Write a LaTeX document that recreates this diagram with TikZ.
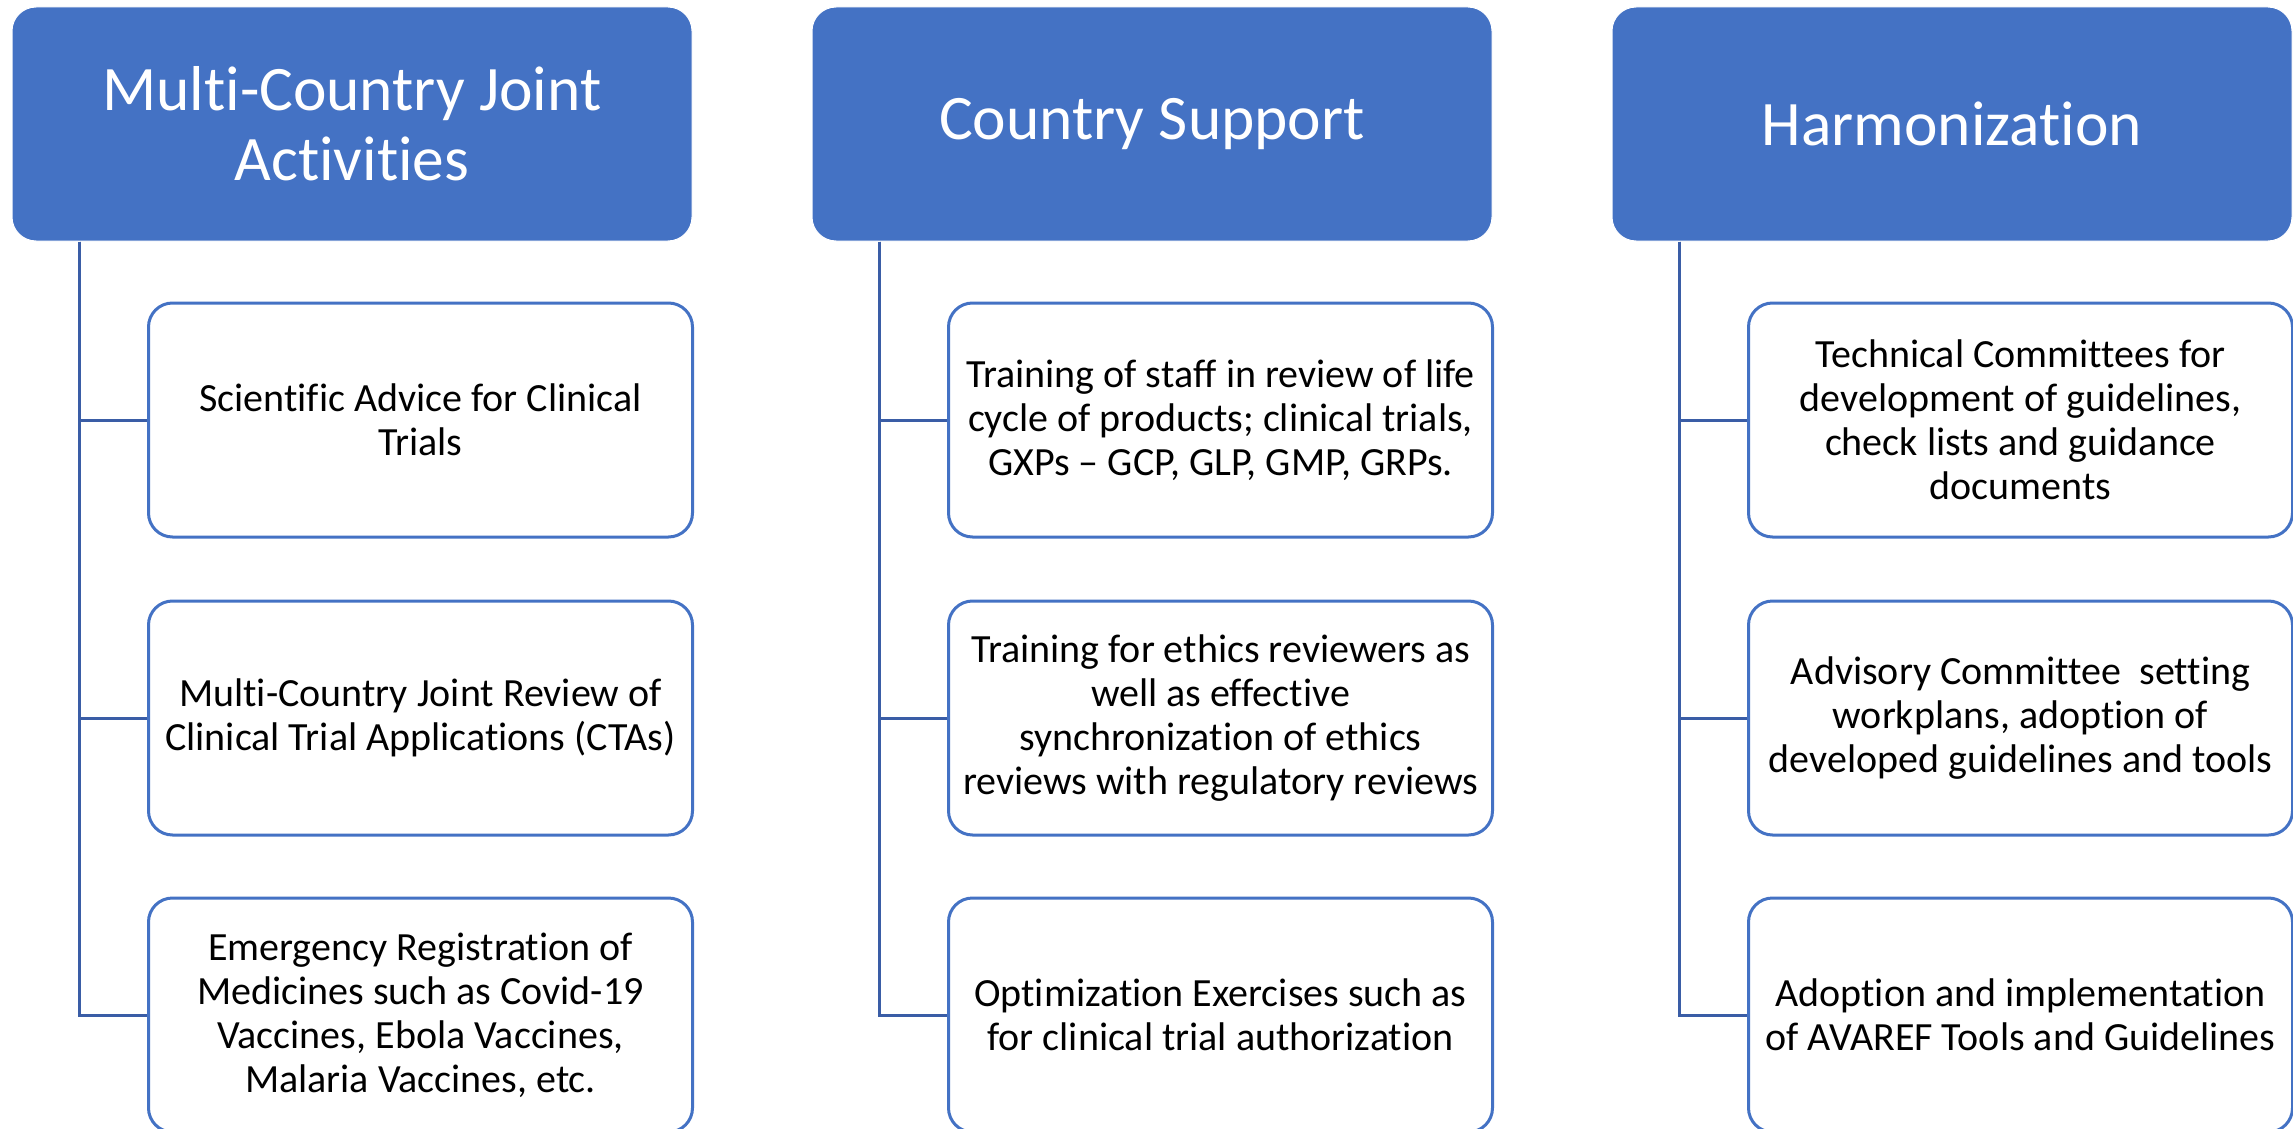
\documentclass[tikz,border=0pt]{standalone}
\usepackage{fontspec}
\setmainfont{Carlito}[Ligatures={NoCommon}]
\usepackage{tikz}
\usetikzlibrary{positioning,calc}

\definecolor{headblue}{HTML}{4472C4}
\definecolor{linkblue}{HTML}{3A5DA6}

\begin{document}
\begin{tikzpicture}
  % styles
  \tikzstyle{head}=[rectangle, rounded corners=12pt, fill=headblue, draw=white, line width=0.5pt, minimum width=340pt, minimum height=117pt, align=center, text=white, font=\fontsize{31.7}{35}\selectfont];
  \tikzstyle{item}=[rectangle, rounded corners=12pt, fill=white, draw=headblue, line width=1.5pt, minimum width=272pt, minimum height=117pt, align=center, font=\fontsize{20}{22}\selectfont];
  \tikzstyle{link}=[draw=linkblue, line width=1.5pt];

  \useasboundingbox (0,0) rectangle (1146.5pt,-564.5pt);

  %==================== HEADERS ====================
  \node[head] (h1) at (176pt,-62pt) {Multi-Country Joint\\Activities};
  \node[head] (h2) at (576pt,-62pt) {Country Support};
  \node[head] (h3) at (976pt,-62pt) {Harmonization};

  %==================== COLUMN 1 ====================
  \node[item] (c11) at ($(h1.east)+(-136pt,-148pt)$) {Scientific Advice for Clinical\\Trials};
  \node[item, below=30.5pt of c11] (c12) {Multi-Country Joint Review of\\Clinical Trial Applications (CTAs)};
  \node[item, below=30pt of c12] (c13) {Emergency Registration of\\Medicines such as Covid-19\\Vaccines, Ebola Vaccines,\\Malaria Vaccines, etc.};

  %==================== COLUMN 2 ====================
  \node[item] (c21) at ($(h2.east)+(-136pt,-148pt)$) {Training of staff in review of life\\cycle of products; clinical trials,\\GXPs – GCP, GLP, GMP, GRPs.};
  \node[item, below=30.5pt of c21] (c22) {Training for ethics reviewers as\\well as effective\\synchronization of ethics\\reviews with regulatory reviews};
  \node[item, below=30pt of c22] (c23) {Optimization Exercises such as\\for clinical trial authorization};

  %==================== COLUMN 3 ====================
  \node[item] (c31) at ($(h3.east)+(-136pt,-148pt)$) {Technical Committees for\\development of guidelines,\\check lists and guidance\\documents};
  \node[item, below=30.5pt of c31] (c32) {Advisory Committee~ setting\\workplans, adoption of\\developed guidelines and tools};
  \node[item, below=30pt of c32] (c33) {Adoption and implementation\\of AVAREF Tools and Guidelines};

  % connectors (trunk under each header)
  \coordinate (t1) at ($(h1.south west)+(34pt,0)$);
  \coordinate (t2) at ($(h2.south west)+(34pt,0)$);
  \coordinate (t3) at ($(h3.south west)+(34pt,0)$);
  \draw[link] (t1) |- (c11.west);
  \draw[link] (t1) |- (c12.west);
  \draw[link] (t1) |- (c13.west);
  \draw[link] (t2) |- (c21.west);
  \draw[link] (t2) |- (c22.west);
  \draw[link] (t2) |- (c23.west);
  \draw[link] (t3) |- (c31.west);
  \draw[link] (t3) |- (c32.west);
  \draw[link] (t3) |- (c33.west);
\end{tikzpicture}
\end{document}
